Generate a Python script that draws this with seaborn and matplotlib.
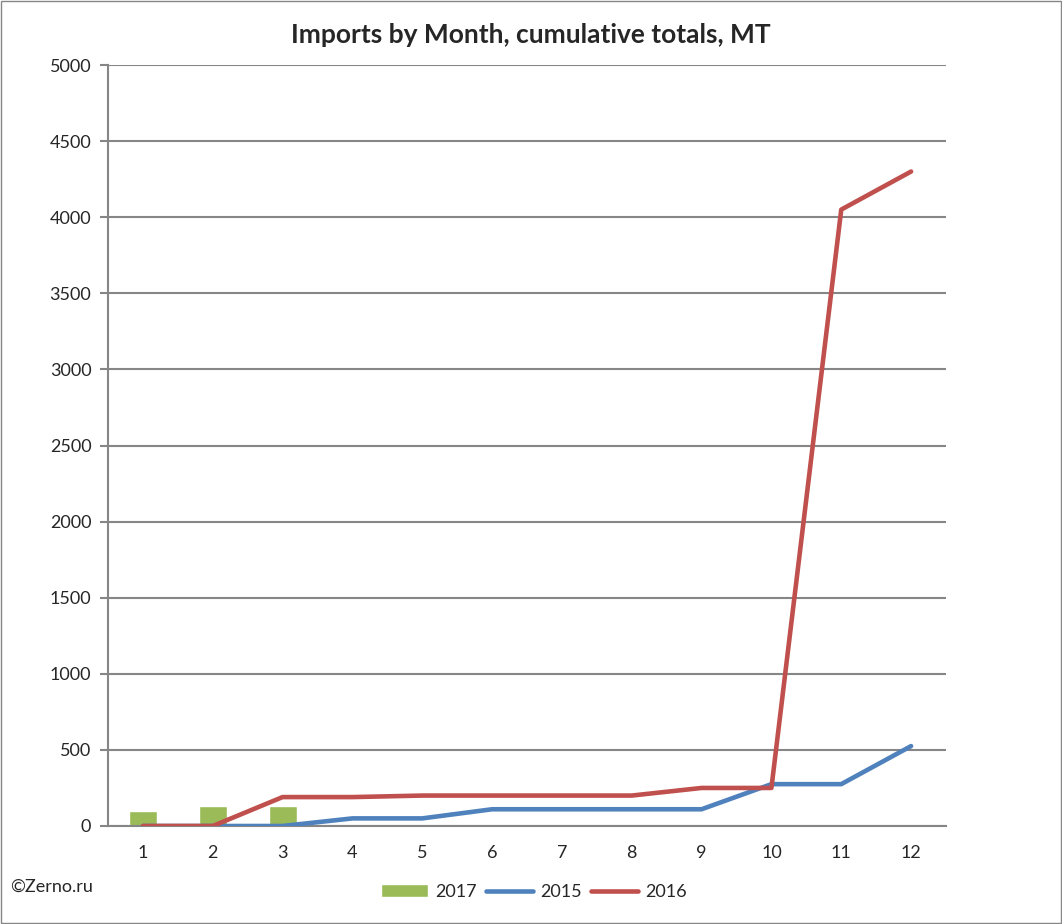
import pandas as pd
import numpy as np
import matplotlib.pyplot as plt
import seaborn as sns
from matplotlib.ticker import FixedLocator

# data
months = list(range(1, 13))
bar_months = [1, 2, 3]
imports_2017 = [100, 130, 130]
imports_2015 = [0, 0, 0, 50, 50, 110, 110, 110, 110, 275, 275, 525]
imports_2016 = [0, 0, 190, 190, 200, 200, 200, 200, 250, 250, 4050, 4300]
y_ticks = [0, 500, 1000, 1500, 2000, 2500, 3000, 3500, 4000, 4500, 5000]

sns.set_style("white")
plt.rcParams['font.family'] = ['Lato', 'DejaVu Sans']

fig = plt.figure(figsize=(10.62, 9.24), dpi=100)
ax = fig.add_axes([108 / 1062, 1 - 826 / 924, (946 - 108) / 1062, (826 - 65) / 924])

df_bar = pd.DataFrame({'Month': bar_months, 'MT': imports_2017})
sns.barplot(data=df_bar, x='Month', y='MT', native_scale=True, width=0.4,
            color='#9BBB59', saturation=1, ax=ax, label='2017', zorder=2)
sns.lineplot(x=months, y=imports_2015, color='#4F81BD', linewidth=3.3,
             ax=ax, label='2015', zorder=3)
sns.lineplot(x=months, y=imports_2016, color='#C0504D', linewidth=3.3,
             ax=ax, label='2016', zorder=4)

ax.set_xlim(0.5, 12.5)
ax.set_ylim(0, 5000)
ax.set_yticks(y_ticks)
ax.set_yticklabels([str(v) for v in y_ticks], fontsize=13)
ax.set_xticks(months)
ax.set_xticklabels([str(m) for m in months], fontsize=13)
ax.xaxis.set_minor_locator(FixedLocator(np.arange(0.5, 13, 1)))
ax.tick_params(axis='x', which='major', length=0, pad=14)
ax.tick_params(axis='x', which='minor', length=6, color='#868686', width=1.5)
ax.tick_params(axis='y', length=6, color='#868686', width=1.5, left=True, pad=6)
ax.set_xlabel('')
ax.set_ylabel('')

ax.grid(axis='y', color='#868686', linewidth=1.5, zorder=0)
ax.set_axisbelow(True)
for s in ['top', 'right']:
    ax.spines[s].set_visible(False)
ax.spines['left'].set_color('#868686')
ax.spines['bottom'].set_color('#868686')
ax.spines['left'].set_linewidth(1.5)
ax.spines['bottom'].set_linewidth(1.5)

fig.suptitle('Imports by Month, cumulative totals, MT', fontsize=19,
             fontweight='bold', y=1 - 35 / 924, va='center')

handles, labels = ax.get_legend_handles_labels()
order = [labels.index(l) for l in ['2017', '2015', '2016']]
ax.legend([handles[i] for i in order], [labels[i] for i in order],
          loc='center', bbox_to_anchor=(534 / 1062, 1 - 892 / 924),
          bbox_transform=fig.transFigure, ncol=3, frameon=False,
          fontsize=13, handlelength=2.6, handletextpad=0.4, columnspacing=0.5)

fig.text(10 / 1062, 1 - 887 / 924, '©Zerno.ru', fontsize=13, va='center')

fig.patches.append(plt.Rectangle((0.001, 0.001), 0.998, 0.998, transform=fig.transFigure,
                                 fill=False, edgecolor='#868686', linewidth=1))

fig.savefig('out.png', dpi=100)
